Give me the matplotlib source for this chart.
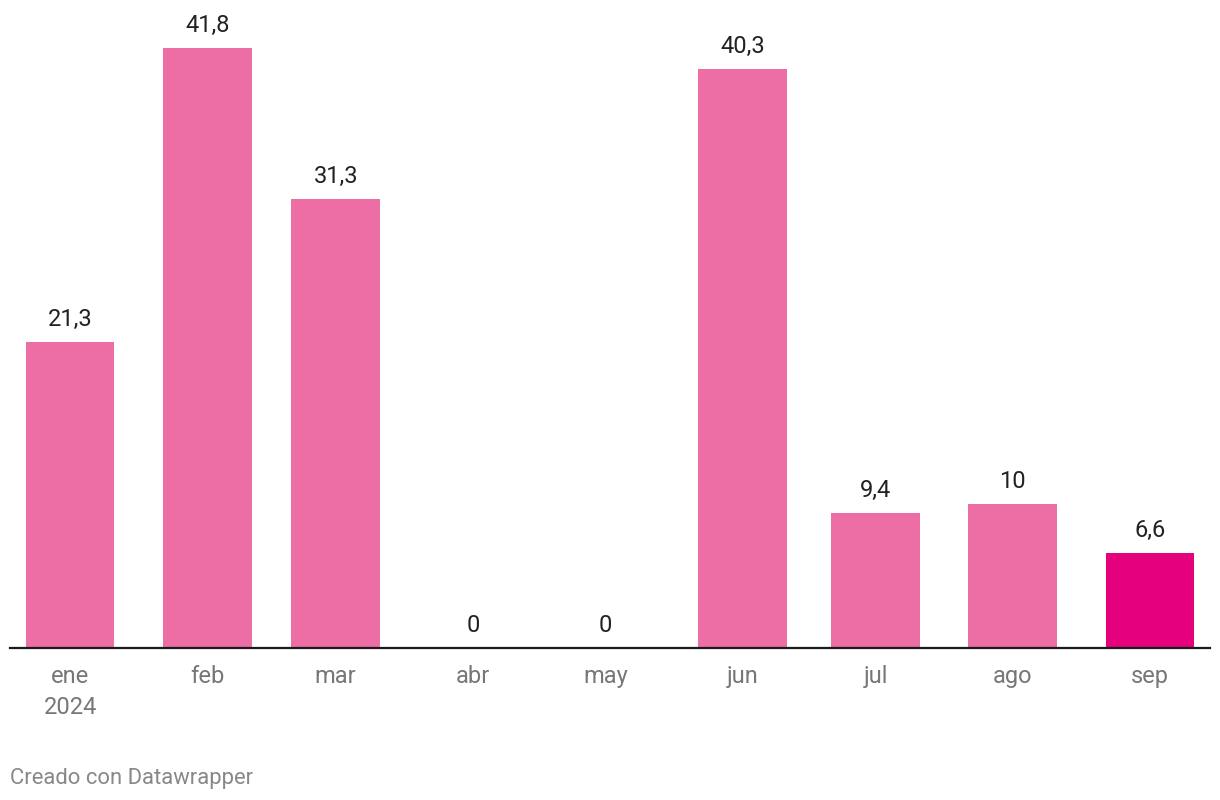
import matplotlib
matplotlib.use("Agg")
import matplotlib.pyplot as plt
import matplotlib.dates as mdates
from datetime import datetime, timedelta

months = ["2024-01-01", "2024-02-01", "2024-03-01", "2024-04-01", "2024-05-01",
          "2024-06-01", "2024-07-01", "2024-08-01", "2024-09-01"]
tick_labels = ["ene\n2024", "feb", "mar", "abr", "may", "jun", "jul", "ago", "sep"]
values = [21.3, 41.8, 31.3, 0, 0, 40.3, 9.4, 10, 6.6]
value_labels = ["21,3", "41,8", "31,3", "0", "0", "40,3", "9,4", "10", "6,6"]

plt.rcParams['font.family'] = ['Roboto', 'DejaVu Sans']

dates = [datetime.strptime(m, "%Y-%m-%d") for m in months]
xnum = mdates.date2num(dates)
colors = ["#ec6ea5"] * (len(values) - 1) + ["#e5007e"]

fig = plt.figure(figsize=(12.2, 8), dpi=100)
ax = fig.add_axes([10 / 1220, (800 - 648) / 800, 1200 / 1220, (648 - 10) / 800])

ax.bar(xnum, values, width=20, color=colors, align="center", zorder=2)

for x, v, lab in zip(xnum, values, value_labels):
    ax.annotate(lab, xy=(x, v), xytext=(0, 11.5), textcoords="offset points",
                ha="center", va="baseline", fontsize=17, color="#222222")

x0 = mdates.date2num(datetime(2024, 1, 1))
ax.set_xlim(x0 - 13.6, x0 + 257.6)
ax.set_ylim(0, (648 - 10) / 14.36)

ax.set_xticks(xnum)
ax.set_xticklabels(tick_labels, fontsize=17, color="#777777", linespacing=1.45)
ax.tick_params(axis="x", length=0, pad=12)
ax.set_yticks([])
for s in ["top", "right", "left"]:
    ax.spines[s].set_visible(False)
ax.spines["bottom"].set_color("#1a1a1a")
ax.spines["bottom"].set_linewidth(1.6)
ax.spines["bottom"].set_zorder(3)

fig.text(10 / 1220, (800 - 784) / 800, "Creado con Datawrapper", fontsize=15.8,
         color="#888888", ha="left", va="baseline")

fig.savefig("out.png", dpi=100)
